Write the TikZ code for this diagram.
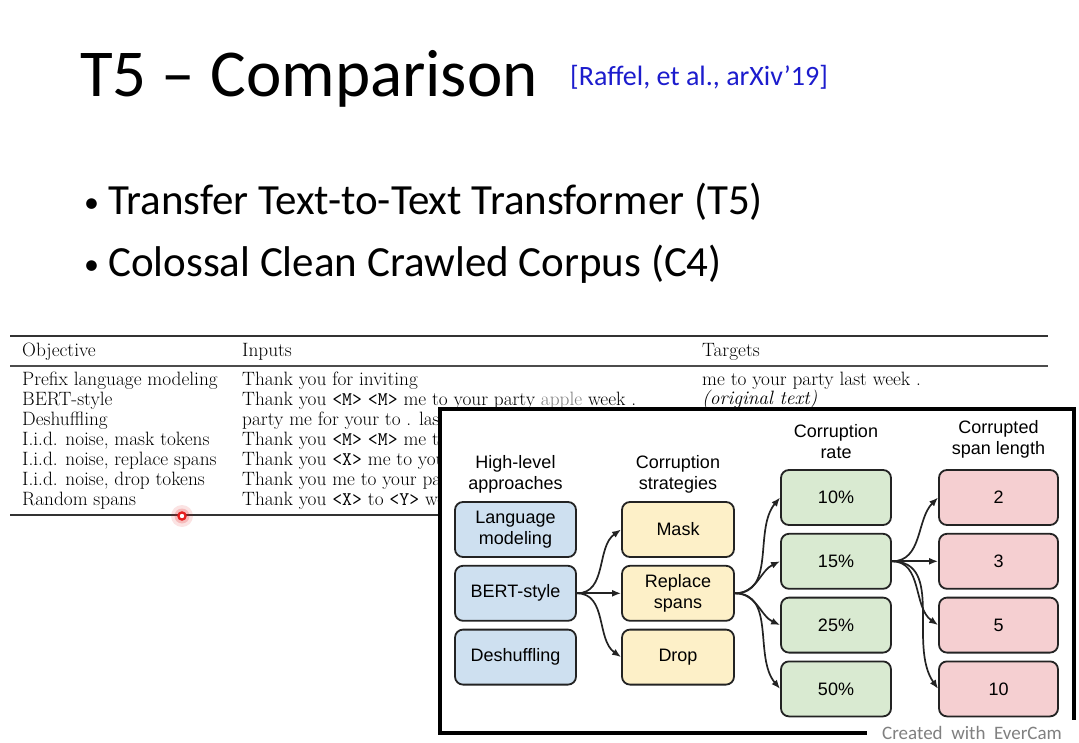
\documentclass[tikz,border=0pt]{standalone}
\usepackage{fontspec}
\usepackage{tikz}
\usetikzlibrary{positioning}
\usetikzlibrary{arrows.meta}
\newfontfamily\slidefont{Carlito}
\newfontfamily\figfont{Liberation Sans}
\definecolor{citeblue}{RGB}{28,28,205}
\definecolor{approachfill}{RGB}{206,224,240}
\definecolor{strategyfill}{RGB}{253,240,200}
\definecolor{ratefill}{RGB}{217,234,209}
\definecolor{spanfill}{RGB}{245,207,209}
\definecolor{boxline}{RGB}{35,35,35}
\definecolor{cursorred}{RGB}{230,30,30}

\tikzset{
  slide/.style={font=\slidefont, anchor=base west, inner sep=0pt},
  tab/.style={font=\fontsize{19.3}{22}\selectfont, anchor=base west, inner sep=0pt},
  fig/.style={font=\figfont\fontsize{18}{21}\selectfont, align=center},
  opt/.style={fig, draw=boxline, line width=1.8pt, rounded corners=8pt, minimum height=55pt},
  approach/.style={opt, fill=approachfill, minimum width=121pt},
  strategy/.style={opt, fill=strategyfill, minimum width=112pt},
  rate/.style={opt, fill=ratefill, minimum width=110pt},
  spanlen/.style={opt, fill=spanfill, minimum width=119pt},
  link/.style={-{Latex[length=9pt,width=7pt]}, line width=1.7pt, draw=boxline},
}

\begin{document}
\begin{tikzpicture}[x=1pt, y=-1pt]
  \useasboundingbox[fill=white] (0,0) rectangle (1079,743);

  % slide text
  \node[slide, font=\slidefont\fontsize{67}{72}\selectfont] (title) at (80,97) {T5 – Comparison};
  \node[slide, font=\slidefont\fontsize{28}{32}\selectfont, text=citeblue] (cite) at (570,86) {[Raffel, et al., arXiv’19]};
  \node[slide, font=\slidefont\fontsize{30}{34}\selectfont] (dot1) at (84,213) {•};
  \node[slide, font=\slidefont\fontsize{43}{50}\selectfont] (b1) at (108,215) {Transfer Text-to-Text Transformer (T5)};
  \node[slide, font=\slidefont\fontsize{30}{34}\selectfont] (dot2) at (84,275) {•};
  \node[slide, font=\slidefont\fontsize{43}{50}\selectfont] (b2) at (108,277) {Colossal Clean Crawled Corpus (C4)};

  % table
  \draw[line width=2pt, black!80] (10,336) -- (1048,336);
  \draw[line width=1.2pt, black!70] (10,366) -- (1048,366);
  \draw[line width=2pt, black!80] (10,515) -- (440,515);
  \node[tab] (hobj) at (22,356) {Objective};
  \node[tab] (hin) at (242,356) {Inputs};
  \node[tab] (htgt) at (702,356) {Targets};
  \foreach \txt [count=\i] in {Prefix language modeling, BERT-style, Deshuffling,
      {I.i.d. noise, mask tokens}, {I.i.d. noise, replace spans},
      {I.i.d. noise, drop tokens}, Random spans}
    \node[tab] (obj\i) at (22,366+\i*19.9) {\txt};
  \node[tab] (in1) at (242,385.9) {Thank you for inviting};
  \node[tab] (in2) at (242,405.8) {Thank you \texttt{<M>} \texttt{<M>} me to your party \textcolor{gray}{apple} week .};
  \node[tab] (in3) at (242,425.7) {party me for your to . last};
  \node[tab] (in4) at (242,445.6) {Thank you \texttt{<M>} \texttt{<M>} me to};
  \node[tab] (in5) at (242,465.5) {Thank you \texttt{<X>} me to your};
  \node[tab] (in6) at (242,485.4) {Thank you me to your party};
  \node[tab] (in7) at (242,505.3) {Thank you \texttt{<X>} to \texttt{<Y>} week};
  \node[tab] (tgt1) at (702,385.9) {me to your party last week .};
  \node[tab] (tgt2) at (702,404.8) {\textit{(original text)}};

  % figure panel
  \draw[line width=4pt, fill=white] (439.5,409) rectangle (1073.5,733);

  \node[approach] (lm) at (515.5,529.5) {Language\\modeling};
  \node[approach, below=7pt of lm] (bert) {BERT-style};
  \node[approach, below=7pt of bert] (desh) {Deshuffling};

  \node[strategy] (mask) at (678,529.5) {Mask};
  \node[strategy, below=7pt of mask] (repl) {Replace\\spans};
  \node[strategy, below=7pt of repl] (drop) {Drop};

  \node[rate] (r10) at (836,497.5) {10\%};
  \node[rate, below=7pt of r10] (r15) {15\%};
  \node[rate, below=7pt of r15] (r25) {25\%};
  \node[rate, below=7pt of r25] (r50) {50\%};

  \node[spanlen] (s2) at (998.5,497.5) {2};
  \node[spanlen, below=7pt of s2] (s3) {3};
  \node[spanlen, below=7pt of s3] (s5) {5};
  \node[spanlen, below=7pt of s5] (s10) {10};

  \node[fig, above=4pt of lm] (happ) {High-level\\approaches};
  \node[fig, above=4pt of mask] (hstr) {Corruption\\strategies};
  \node[fig, above=7pt of r10] (hrate) {Corruption\\rate};
  \node[fig, above=7pt of s2] (hspan) {Corrupted\\span length};

  \foreach \t/\a in {mask/215, repl/180, drop/145}
    \draw[link] (bert.east) to[out=0, in=\a] (\t.west);
  \foreach \t/\a in {r10/230, r15/205, r25/155, r50/130}
    \draw[link] (repl.east) to[out=0, in=\a] (\t.west);
  \foreach \t/\a in {s2/225, s3/180, s5/145, s10/125}
    \draw[link] (r15.east) to[out=0, in=\a] (\t.west);

  % recorder marks
  \fill[cursorred, opacity=0.12] (182,516) circle (11);
  \fill[cursorred, opacity=0.2] (182,516) circle (7.5);
  \fill[cursorred] (182,516) circle (4.8);
  \fill[white] (182,516) circle (2.2);
  \fill[black!10] (869,722) rectangle (1079,743);
  \fill[white] (867,720) rectangle (1079,743);
  \node[anchor=base west, inner sep=0pt, font=\slidefont\fontsize{19}{22}\selectfont, text=gray] (mark) at (882,739) {Created\ \ with\ \ EverCam};
\end{tikzpicture}
\end{document}
